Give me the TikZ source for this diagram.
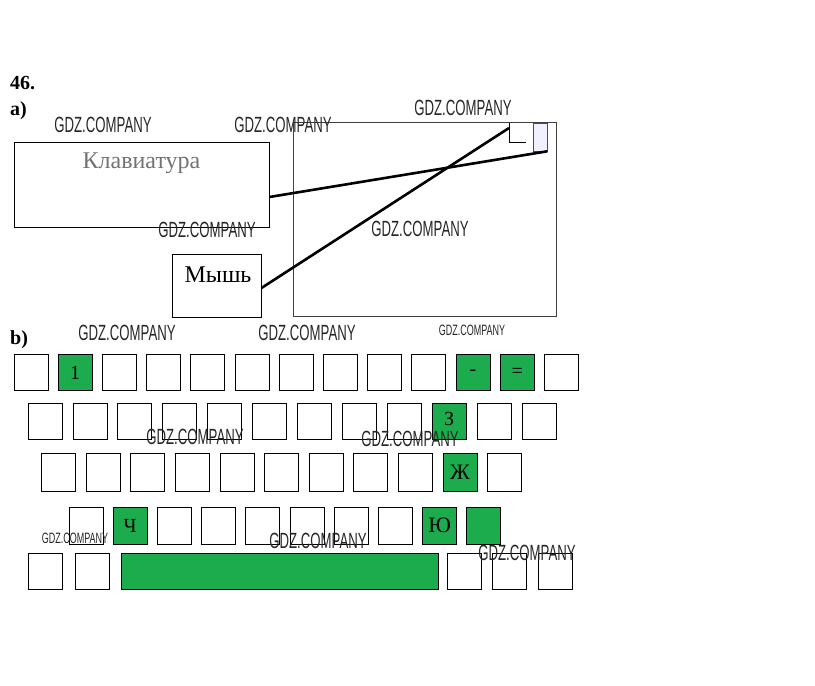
\documentclass[tikz,border=0pt]{standalone}
\usepackage{fontspec}
\setmainfont{Liberation Serif}
\newfontfamily\wmfont[FakeStretch=0.6]{Liberation Sans}
\usetikzlibrary{positioning}
\definecolor{keygreen}{RGB}{28,172,78}

\begin{document}
\begin{tikzpicture}
  [
    x=1pt, y=-1pt,
    Box/.style={draw=black, line width=0.9pt, inner sep=0pt},
    Key/.style={draw=black, line width=0.8pt, minimum width=34pt, minimum height=36pt, inner sep=0pt, font=\fontsize{20}{20}\selectfont},
    Hit/.style={Key, fill=keygreen},
    Cable/.style={line width=2.6pt},
    Mark/.style={font=\fontsize{20}{20}\selectfont\bfseries, anchor=base west, inner sep=0pt},
    Wm/.style={font=\wmfont\fontsize{22}{22}\selectfont, text=black!85, inner sep=0pt}
  ]
  \useasboundingbox (0,0) rectangle (815,686);

  % Headings
  \node[Mark] (n46) at (10,89) {46.};
  \node[Mark] (pa) at (10,115) {a)};
  \node[Mark] (pb) at (10,344) {b)};

  % Part a
  \node[Box, minimum width=255pt, minimum height=85pt] (kbd) at (141.5,184.5) {};
  \node[text=black!55, font=\fontsize{24}{24}\selectfont] (kbdtxt) at (141.5,163) {Клавиатура};
  \node[Box, minimum width=89pt, minimum height=63pt] (mouse) at (216.5,285.5) {};
  \node[font=\fontsize{24}{24}\selectfont] (mousetxt) at (218,275) {Мышь};
  \node[draw=black!75, line width=0.7pt, minimum width=263pt, minimum height=194pt] (unit) at (424.5,219) {};
  \node[draw=black!70, fill=blue!6, line width=0.6pt, minimum width=14pt, minimum height=28pt, inner sep=0pt] (kport) at (540,137) {};
  \coordinate (mport) at (509,128);
  \draw[line width=0.8pt] (509,123) |- (526,142);

  \draw[Cable] ([yshift=-12.5pt]kbd.east) -- (kport.south east);
  \draw[Cable] ([yshift=-2.5pt]mouse.east) -- (mport);

  % Part b: row 1
  \foreach \i in {0,2,3,4,5,6,7,8,9,12}
    \node[Key] (ra\i) at ({31+44.2*\i},372.5) {};
  \node[Hit] (ra1) at ({31+44.2*1},372.5) {1};
  \node[Hit] (ra10) at ({31+44.2*10},372.5) {-};
  \node[Hit] (ra11) at ({31+44.2*11},372.5) {=};

  % row 2
  \foreach \i in {0,...,8,10,11}
    \node[Key] (rb\i) at ({45+44.9*\i},421) {};
  \node[Hit] (rb9) at ({45+44.9*9},421) {\raisebox{5pt}{З}};

  % row 3
  \foreach \i in {0,...,8,10}
    \node[Key, minimum height=38pt] (rc\i) at ({58.5+44.6*\i},472) {};
  \node[Hit, minimum height=38pt, font=\fontsize{22}{22}\selectfont] (rc9) at ({58.5+44.6*9},472) {Ж};

  % row 4
  \foreach \i in {0,2,3,4,5,6,7}
    \node[Key, minimum height=37pt] (rd\i) at ({86+44.2*\i},525.5) {};
  \node[Hit, minimum height=37pt] (rd1) at ({86+44.2*1},525.5) {Ч};
  \node[Hit, minimum height=37pt, font=\fontsize{22}{22}\selectfont] (rd8) at ({86+44.2*8},525.5) {Ю};
  \node[Hit, minimum height=37pt] (rd9) at ({86+44.2*9},525.5) {};

  % row 5
  \foreach \x [count=\n] in {45.5,92.5,464.5,509.5,555}
    \node[Key] (re\n) at (\x,571) {};
  \node[Hit, minimum width=317pt] (space) at (279.5,571) {};

  % Watermarks
  \foreach \x/\y [count=\n] in {103/125,283/125,463/108,207/230,420/229,127/333,307/333,195/437,410/439,318/541,527/553}
    \node[Wm] (wm\n) at (\x,\y) {GDZ.COMPANY};
  \node[Wm, font=\wmfont\fontsize{15}{15}\selectfont] (wms1) at (472,330) {GDZ.COMPANY};
  \node[Wm, font=\wmfont\fontsize{15}{15}\selectfont] (wms2) at (75,538) {GDZ.COMPANY};

\end{tikzpicture}
\end{document}
